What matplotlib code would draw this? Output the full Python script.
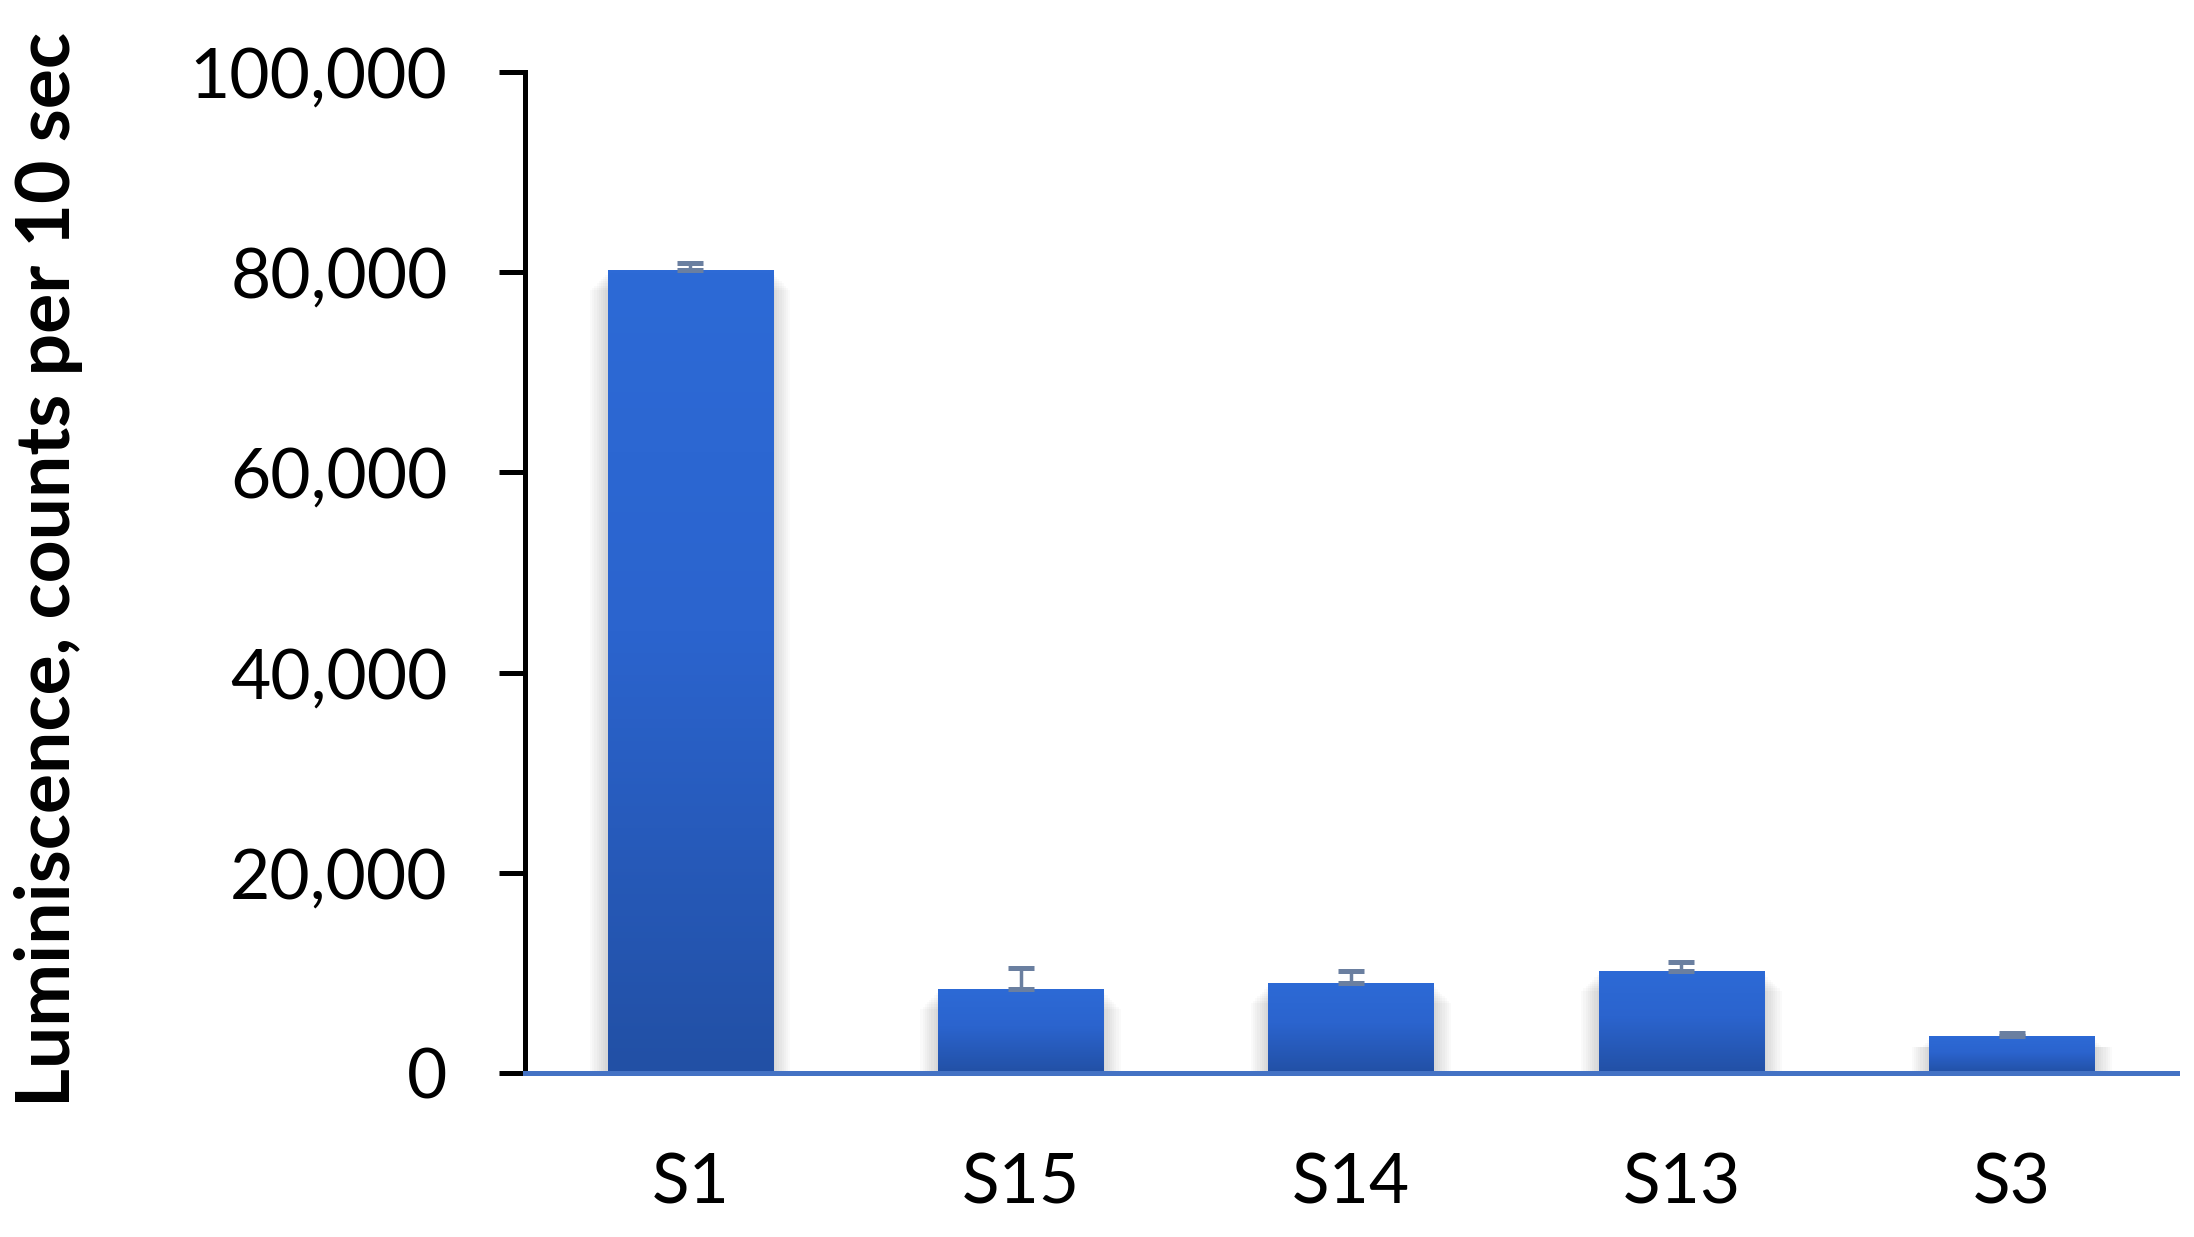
import numpy as np
import matplotlib
matplotlib.use("Agg")
import matplotlib.pyplot as plt
from matplotlib.colors import LinearSegmentedColormap
from matplotlib.patches import Rectangle
from matplotlib.ticker import FuncFormatter

categories = ["S1", "S15", "S14", "S13", "S3"]
luminescence = [80200, 8400, 9000, 10200, 3700]
errors = [700, 2100, 1150, 850, 250]
y_ticks = [0, 20000, 40000, 60000, 80000, 100000]

plt.rcParams['font.family'] = ['Lato', 'DejaVu Sans']

fig = plt.figure(figsize=(21.94, 12.37), dpi=100)
ax = fig.add_axes([0.2393, 0.1326, 0.7530, 0.8092])

x = np.arange(len(categories))
bars = ax.bar(x, luminescence, width=0.5, color='none', edgecolor='none', zorder=3)

# vertical gradient fill + soft side shadow for every bar
cmap = LinearSegmentedColormap.from_list(
    "barfill", [(0, "#2250A5"), (0.55, "#2B64CE"), (1, "#2D6AD6")])
grad = np.linspace(0, 1, 256).reshape(-1, 1)
for b in bars:
    x0, w, h = b.get_x(), b.get_width(), b.get_height()
    for k in range(1, 9):
        d = k * 2.2 / 330
        top = h - min(h * 0.3, (k + 1) * 220)
        ax.add_patch(Rectangle((x0 - d, 0), w + 2 * d, top,
                               color='black', alpha=0.018, lw=0, zorder=1))
    im = ax.imshow(grad, extent=[x0, x0 + w, 0, h], origin='lower',
                   cmap=cmap, aspect='auto', zorder=3)
    im.set_clip_path(b)

ax.errorbar(x, luminescence, yerr=[np.zeros(len(errors)), errors], fmt='none',
            ecolor='#6A7FA0', elinewidth=2.5, capsize=9.7, capthick=3.6, zorder=4)

ax.set_xlim(-0.5, len(categories) - 0.5)
ax.set_ylim(0, 100000)
ax.set_xticks(x)
ax.set_xticklabels(categories)
ax.set_yticks(y_ticks)
ax.yaxis.set_major_formatter(FuncFormatter(lambda v, p: f"{v:,.0f}"))

for s in ['top', 'right']:
    ax.spines[s].set_visible(False)
ax.spines['left'].set_color('black')
ax.spines['left'].set_linewidth(3.6)
ax.spines['bottom'].set_color('#4472C4')
ax.spines['bottom'].set_linewidth(3.6)
ax.spines['bottom'].set_zorder(5)

ax.tick_params(axis='y', length=18.7, width=3.6, pad=37, labelsize=50, colors='black')
ax.tick_params(axis='x', length=0, pad=57, labelsize=50, colors='black')

fig.text(14 / 2194, (1237 - 1107) / 1237, "Luminiscence, counts per 10 sec",
         rotation=90, ha='left', va='bottom', fontsize=54, fontweight='bold')

fig.savefig("out.png", dpi=100)
